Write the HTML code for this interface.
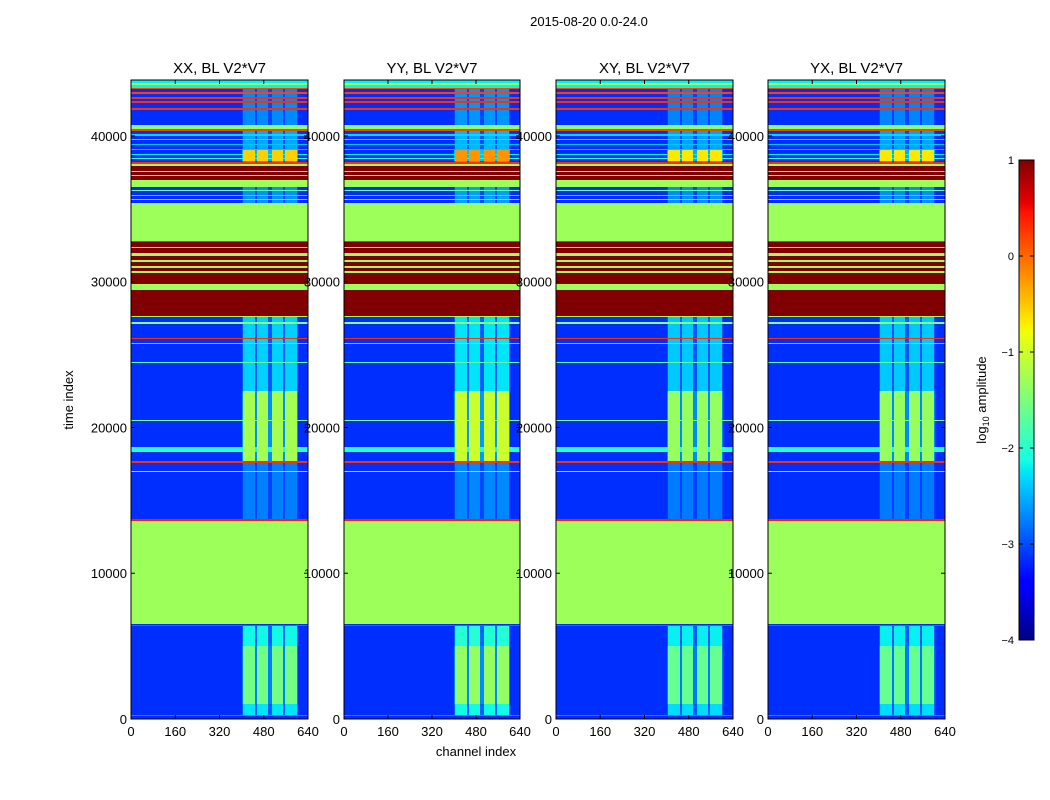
<!DOCTYPE html>
<html><head><meta charset="utf-8">
<style>
body{margin:0;background:#fff;width:1050px;height:800px;overflow:hidden;position:relative;font-family:"Liberation Sans",sans-serif;}
canvas{position:absolute;image-rendering:pixelated;}
svg{position:absolute;left:0;top:0;}
</style></head>
<body>
<canvas id="c0" width="177" height="639" style="left:131px;top:80px"></canvas>
<canvas id="c1" width="176" height="639" style="left:344px;top:80px"></canvas>
<canvas id="c2" width="177" height="639" style="left:556px;top:80px"></canvas>
<canvas id="c3" width="177" height="639" style="left:768px;top:80px"></canvas>
<canvas id="cb" width="15" height="480" style="left:1019px;top:160px"></canvas>
<svg id="ov" width="1050" height="800">
<text x="589" y="26" font-size="13" text-anchor="middle">2015-08-20 0.0-24.0</text>
<text x="73" y="400" font-size="13" text-anchor="middle" transform="rotate(-90 73 400)">time index</text>
<text x="476" y="756" font-size="13" text-anchor="middle">channel index</text>
<text x="986" y="400" font-size="13" text-anchor="middle" transform="rotate(-90 986 400)">log<tspan font-size="9" dy="3">10</tspan><tspan dy="-3"> amplitude</tspan></text>
</svg>
<script>
const panelTitles=["XX, BL V2*V7","YY, BL V2*V7","XY, BL V2*V7","YX, BL V2*V7"];
const panelGain=[1.0,1.12,0.95,0.95];
const xTicks=[0,160,320,480,640];
const yTicks=[0,10000,20000,30000,40000];
const cbTicks=[1,0,-1,-2,-3,-4];
const tMax=43835, cMax=640, vMin=-4, vMax=1, bgVal=-3.15;
// horizontal bands: [t0, t1, log10 amplitude]
const bandT0=[43300,43500,43200,42900,42550,42280,41800,40450,40350,40000,39700,39350,39000,38700,38400,38100,37960,36975,37520,37250,36495,36250,35900,35600,32791,32700,32380,32311,31968,31762,31487,31350,31076,30939,30733,30596,29841,29430,27646,27577,27130,26100,25700,24400,21240,20890,20420,18300,18560,18290,17560,16920,15620,15340,15000,14450,13980,13583,6517,6350,4910,4570,4300,4020,3750,3470,1960,240];
const bandT1=[43900,43650,43300,43000,42650,42380,41900,40750,40450,40100,39780,39420,39080,38760,38500,38200,38100,37960,37600,37320,36975,36300,35960,35680,35398,32791,32700,32380,32311,31968,31762,31487,31350,31076,30939,30733,30596,29841,29430,27646,27200,26170,25780,24460,21300,20950,20480,18650,18620,18340,17720,16980,15660,15380,15050,14500,14020,13720,13583,6420,4960,4620,4350,4070,3800,3530,2020,300];
const bandV=[-2.2,-1.3,0.2,0.2,0.3,0.3,0.3,-1.4,0.2,-2.3,-2.2,-2.4,-2.4,-2.2,-2.0,0.3,-1.3,1,-1.3,-1.3,-1.3,-1.6,-2.2,-1.8,-1.3,0.3,1,-1.3,1,-1.3,1,-1.3,1,-1.3,1,-1.3,1,-1.3,1,-1.3,-1.4,0.3,-2.1,-1.7,-1.6,0.3,-1.5,-2.0,0.3,0.3,0.3,-1.4,-2.4,-2.4,-1.6,0.3,0.3,0.4,-1.3,0.3,0.3,-1.4,-1.4,-1.4,0.3,0.3,0.3,0.2];
// RFI channel activity vs time
const actT0=[40700,38142,38300,35398,22500,17700,13720,5000,1000,274];
const actT1=[43900,40337,39000,36495,27646,22500,17700,6380,5000,1000];
const actLevel=[0.45,0.6,2.6,0.5,0.8,1.9,0.4,1.0,1.6,0.9];
// RFI channel stripes
const stripeC0=[405,455,510,557];
const stripeC1=[448,495,550,600];

function jet(f){f=Math.max(0,Math.min(1,f));
 const lerp=(pts)=>{for(let i=1;i<pts.length;i++){if(f<=pts[i][0]){const a=pts[i-1],b=pts[i];return a[1]+(b[1]-a[1])*(f-a[0])/(b[0]-a[0]);}}return pts[pts.length-1][1];};
 return [lerp([[0,0],[0.35,0],[0.66,1],[0.89,1],[1,0.5]]),lerp([[0,0],[0.125,0],[0.375,1],[0.64,1],[0.91,0],[1,0]]),lerp([[0,0.5],[0.11,1],[0.34,1],[0.65,0],[1,0]])].map(v=>Math.round(v*255));}
const fracOf=v=>(v-vMin)/(vMax-vMin);
function chanWeight(c){for(let i=0;i<stripeC0.length;i++){if(c>=stripeC0[i]&&c<=stripeC1[i])return 1;}return (c>=400&&c<=605)?0.25:0;}
function activity(t){let a=0;for(let i=0;i<actT0.length;i++){if(t>=actT0[i]&&t<actT1[i])a=Math.max(a,actLevel[i]);}return a;}
function bandAt(t){let v=null;for(let i=0;i<bandT0.length;i++){if(t>=bandT0[i]&&t<bandT1[i])v=bandV[i];}return v;}

for(let p=0;p<4;p++){
 const cv=document.getElementById('c'+p),ctx=cv.getContext('2d');
 const W=cv.width,H=cv.height,img=ctx.createImageData(W,H);
 for(let r=0;r<H;r++){
  const t=(H-r-0.5)/H*tMax;const b=bandAt(t);const a=activity(t)*panelGain[p];
  for(let k=0;k<W;k++){
   const c=(k+0.5)/W*cMax;
   let v=bgVal+a*chanWeight(c);
   if(b!==null)v=(b>=-1.3||b>v)?b:v;
   const col=jet(fracOf(v));const o=(r*W+k)*4;
   img.data[o]=col[0];img.data[o+1]=col[1];img.data[o+2]=col[2];img.data[o+3]=255;
  }
 }
 ctx.putImageData(img,0,0);
}
{const cv=document.getElementById('cb'),ctx=cv.getContext('2d');
 for(let r=0;r<cv.height;r++){const col=jet(1-(r+0.5)/cv.height);ctx.fillStyle=`rgb(${col[0]},${col[1]},${col[2]})`;ctx.fillRect(0,r,cv.width,1);}}

const NS='http://www.w3.org/2000/svg',ov=document.getElementById('ov');
function el(tag,attrs,txt){const e=document.createElementNS(NS,tag);for(const k in attrs)e.setAttribute(k,attrs[k]);if(txt!==undefined)e.textContent=txt;ov.appendChild(e);return e;}
const lefts=[131,344,556,768],widths=[177,176,177,177],top0=80,h0=639;
for(let p=0;p<4;p++){
 const L=lefts[p],Wd=widths[p];
 const f=el('rect',{x:L,y:top0,width:Wd,height:h0,fill:'none',stroke:'#000','stroke-width':1});
 
 
 const tt=el('text',{x:L+Wd/2,y:73,'font-size':15,'text-anchor':'middle'},panelTitles[p]);
 
 
 xTicks.forEach(v=>{const x=L+v/cMax*Wd;
  el('line',{x1:x,x2:x,y1:top0+h0,y2:top0+h0-4,stroke:'#000'});
  el('line',{x1:x,x2:x,y1:top0,y2:top0+4,stroke:'#000'});
  const tl=el('text',{x:x,y:736,'font-size':13,'text-anchor':'middle'},String(v));
  
  
 });
 yTicks.forEach(v=>{const y=top0+h0-v/tMax*h0;
  el('line',{x1:L,x2:L+4,y1:y,y2:y,stroke:'#000'});
  el('line',{x1:L+Wd,x2:L+Wd-4,y1:y,y2:y,stroke:'#000'});
  const tl=el('text',{x:L-4,y:y+5,'font-size':13,'text-anchor':'end'},String(v));
  
  
 });
}
const cbf=el('rect',{x:1019,y:160,width:15,height:480,fill:'none',stroke:'#000'});


cbTicks.forEach(v=>{const y=160+(vMax-v)/(vMax-vMin)*480;
 el('line',{x1:1019,x2:1023,y1:y,y2:y,stroke:'#000'});
 el('line',{x1:1034,x2:1030,y1:y,y2:y,stroke:'#000'});
 const tl=el('text',{x:1014,y:y+4,'font-size':11,'text-anchor':'end'},v<0?'\u2212'+(-v):String(v));
 
 
});
</script>
</body></html>
